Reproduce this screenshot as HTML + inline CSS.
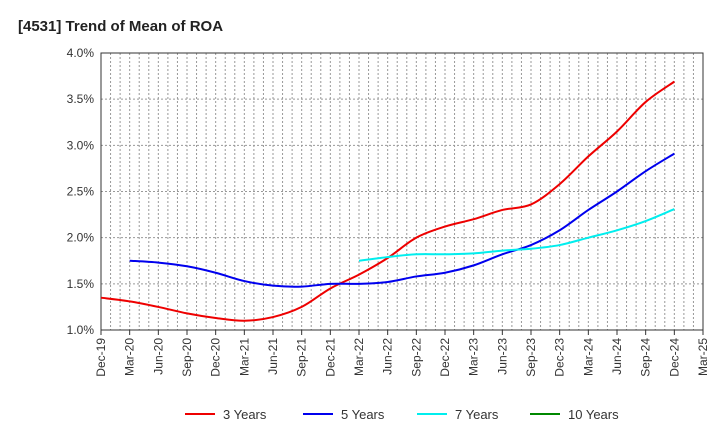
<!DOCTYPE html>
<html><head><meta charset="utf-8"><style>
body{margin:0;background:#fff;font-family:"Liberation Sans",sans-serif}
</style></head><body>
<svg id="c" width="720" height="440" xmlns="http://www.w3.org/2000/svg"></svg>
<script>
const categories=["Dec-19","Mar-20","Jun-20","Sep-20","Dec-20","Mar-21","Jun-21","Sep-21","Dec-21","Mar-22","Jun-22","Sep-22","Dec-22","Mar-23","Jun-23","Sep-23","Dec-23","Mar-24","Jun-24","Sep-24","Dec-24","Mar-25"];
const yTicks=[1.0,1.5,2.0,2.5,3.0,3.5,4.0];
const years3=[1.35,1.31,1.25,1.18,1.13,1.10,1.14,1.25,1.45,1.60,1.78,2.00,2.12,2.20,2.30,2.36,2.58,2.88,3.15,3.47,3.69];
const years5=[null,1.75,1.73,1.69,1.62,1.53,1.48,1.47,1.50,1.50,1.52,1.58,1.62,1.70,1.82,1.92,2.08,2.30,2.50,2.72,2.91];
const years7=[null,null,null,null,null,null,null,null,null,1.75,1.79,1.82,1.82,1.83,1.86,1.88,1.92,2.00,2.08,2.18,2.31];
const years10=[];
const NS="http://www.w3.org/2000/svg",svg=document.getElementById('c');
const L=101,R=703,T=53,B=330;
const xs=i=>L+(R-L)*i/(categories.length-1);
const ys=v=>B-(v-1)/3*(B-T);
function el(t,a,p){const e=document.createElementNS(NS,t);for(const k in a)e.setAttribute(k,a[k]);(p||svg).appendChild(e);return e;}
const title=el('text',{x:18,y:31,'font-size':15,'font-weight':'bold',fill:'#222'});title.textContent='[4531]  Trend of Mean of ROA';


for(let m=1;m<63;m++){const x=L+(R-L)*m/63;const g=el('line',{x1:x,x2:x,y1:T,y2:B,stroke:'#999','stroke-dasharray':'2,2','stroke-width':1});

}
yTicks.forEach(v=>{const y=ys(v);
if(v>1){const g=el('line',{x1:L,x2:R,y1:y,y2:y,stroke:'#999','stroke-dasharray':'2,2'});

}
const t=el('text',{x:L-7,y:y+4,'text-anchor':'end','font-size':12,fill:'#333'});t.textContent=v.toFixed(1)+'%';

});
const fr=el('rect',{x:L,y:T,width:R-L,height:B-T,fill:'none',stroke:'#333'});


categories.forEach((c,i)=>{const x=xs(i);el('line',{x1:x,x2:x,y1:B,y2:B+5,stroke:'#333'});
const t=el('text',{transform:`translate(${x+4},${B+8}) rotate(-90)`,'text-anchor':'end','font-size':12,fill:'#333'});t.textContent=c;

});
function path(arr,color,name){const p=[];arr.forEach((v,i)=>{if(v!=null)p.push([xs(i),ys(v)]);});if(p.length<2)return;
let d='M'+p[0][0]+','+p[0][1];
for(let i=0;i<p.length-1;i++){const p0=p[i-1]||p[i],p1=p[i],p2=p[i+1],p3=p[i+2]||p2;
d+=` C${p1[0]+(p2[0]-p0[0])/6},${p1[1]+(p2[1]-p0[1])/6} ${p2[0]-(p3[0]-p1[0])/6},${p2[1]-(p3[1]-p1[1])/6} ${p2[0]},${p2[1]}`;}
const e=el('path',{d,fill:'none',stroke:color,'stroke-width':2});

}
path(years3,'#ee0000','series-3-years');
path(years5,'#0000ee','series-5-years');
path(years7,'#00eeee','series-7-years');
path(years10,'#008800','series-10-years');
[['3 Years','#ee0000',185],['5 Years','#0000ee',303],['7 Years','#00eeee',417],['10 Years','#008800',530]].forEach(([n,c,x])=>{
const g=el('g',{});


el('line',{x1:x,x2:x+30,y1:414,y2:414,stroke:c,'stroke-width':2},g);
const t=el('text',{x:x+38,y:419,'font-size':13,fill:'#333'},g);t.textContent=n;});
</script>
</body></html>
